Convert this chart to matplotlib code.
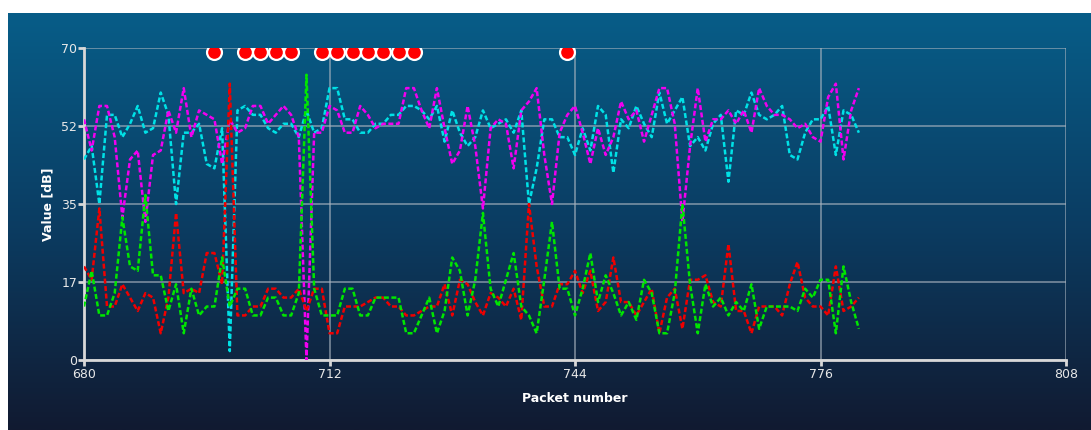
import numpy as np
import matplotlib
matplotlib.use('Agg')
import matplotlib.pyplot as plt
from matplotlib.colors import LinearSegmentedColormap

# Packet numbers and per-channel values [dB]
packets = list(range(680, 782))

cyan_vals = [
    45, 48, 35, 55, 55, 50, 53, 57, 51, 52,
    60, 55, 35, 51, 51, 53, 44, 43, 52, 2,
    56, 57, 55, 55, 52, 51, 53, 53, 50, 56,
    51, 52, 61, 61, 54, 54, 51, 51, 53, 53,
    55, 55, 57, 57, 56, 54, 57, 49, 56, 51,
    48, 50, 56, 52, 53, 54, 51, 56, 35, 43,
    54, 54, 50, 50, 46, 52, 47, 57, 55, 42,
    54, 52, 57, 53, 50, 60, 53, 56, 59, 48,
    50, 47, 53, 55, 40, 56, 55, 60, 55, 54,
    55, 57, 46, 45, 51, 54, 54, 57, 46, 56,
    55, 51]

magenta_vals = [
    54, 47, 57, 57, 50, 32, 45, 47, 31, 46,
    47, 56, 51, 61, 50, 56, 55, 54, 44, 54,
    51, 52, 57, 57, 53, 55, 57, 55, 50, 0,
    51, 51, 57, 56, 51, 51, 57, 55, 52, 53,
    53, 53, 61, 61, 56, 52, 61, 52, 44, 47,
    57, 48, 34, 52, 54, 53, 43, 56, 58, 61,
    46, 35, 51, 55, 57, 51, 44, 52, 46, 50,
    58, 54, 56, 49, 55, 61, 61, 53, 31, 48,
    61, 49, 54, 54, 56, 53, 56, 51, 61, 57,
    55, 55, 54, 52, 53, 50, 49, 59, 62, 45,
    56, 61]

red_vals = [
    21, 18, 34, 12, 12, 17, 14, 11, 15, 14,
    6, 14, 33, 15, 16, 15, 24, 24, 17, 62,
    10, 10, 12, 12, 16, 16, 14, 14, 16, 11,
    16, 16, 6, 6, 12, 12, 12, 13, 14, 14,
    12, 12, 10, 10, 11, 12, 12, 17, 10, 18,
    17, 13, 10, 15, 14, 12, 16, 9, 35, 21,
    12, 12, 17, 17, 20, 15, 20, 11, 13, 23,
    13, 13, 10, 13, 16, 6, 14, 16, 7, 18,
    18, 19, 13, 12, 26, 11, 11, 6, 12, 12,
    12, 10, 17, 22, 14, 12, 12, 10, 21, 11,
    12, 14]

green_vals = [
    12, 20, 10, 10, 15, 32, 21, 20, 37, 19,
    19, 11, 17, 6, 16, 10, 12, 12, 23, 12,
    16, 16, 10, 10, 14, 14, 10, 10, 15, 64,
    16, 10, 10, 10, 16, 16, 10, 10, 14, 14,
    14, 14, 6, 6, 10, 14, 6, 11, 23, 20,
    10, 18, 33, 16, 12, 18, 24, 12, 10, 6,
    18, 31, 16, 16, 10, 16, 24, 13, 19, 15,
    10, 13, 9, 18, 15, 6, 6, 15, 35, 17,
    6, 17, 12, 14, 10, 13, 11, 17, 7, 12,
    12, 12, 12, 11, 16, 14, 18, 18, 6, 21,
    13, 7]

# packets flagged at the top of the chart
flag_packets = [697, 701, 703, 705, 707, 711, 713, 715, 717, 719, 721, 723, 743]
flag_level = 69.2

x_ticks = [680, 712, 744, 776, 808]
y_ticks = [0, 17.5, 35, 52.5, 70]
y_tick_labels = ['0', '17', '35', '52', '70']

fig = plt.figure(figsize=(10.91, 4.30), dpi=100, facecolor='white')

# gradient backdrop
bg = fig.add_axes([8 / 1091, 0, 1 - 8 / 1091, 1 - 13 / 430])
bg_cmap = LinearSegmentedColormap.from_list(
    'bg', ['#075d88', '#0b3d63', '#111a31'])
bg.imshow(np.linspace(0, 1, 256).reshape(-1, 1), aspect='auto', cmap=bg_cmap,
          extent=[0, 1, 0, 1])
bg.set_axis_off()

ax = fig.add_axes([84 / 1091, 70 / 430, 982 / 1091, 312 / 430])
ax.set_facecolor('none')

dash = (2, 1)
series = [(cyan_vals, '#00e1e6'), (magenta_vals, '#f000f0'),
          (red_vals, '#f00000'), (green_vals, '#00e600')]
for vals, col in series:
    ax.plot(packets, vals, color=col, lw=1.8, linestyle=(0, dash), zorder=3)

# flag dots, cut off by the top of the plot area
dots = ax.scatter(flag_packets, [flag_level] * len(flag_packets), s=115,
                  color='#ff0000', edgecolors='white', linewidths=1.6,
                  zorder=5)
dots.set_clip_path(ax.patch)

ax.set_xlim(680, 808)
ax.set_ylim(0, 70)
ax.set_xticks(x_ticks)
ax.set_yticks(y_ticks)
ax.set_yticklabels(y_tick_labels)

ax.grid(True, color='#a9b4bf', alpha=0.75, lw=1.1)
for side in ['top', 'right']:
    ax.spines[side].set_visible(False)
for side in ['left', 'bottom']:
    ax.spines[side].set_color('#d8d8d8')
    ax.spines[side].set_linewidth(2)
ax.tick_params(colors='#d8d8d8', width=2, length=4, labelsize=9,
               labelcolor='#e8e8e8')
ax.tick_params(axis='y', pad=1)
ax.tick_params(axis='x', pad=2)

ax.set_xlabel('Packet number', color='white', fontsize=9, fontweight='bold',
              labelpad=8)
ax.set_ylabel('Value [dB]', color='white', fontsize=9, fontweight='bold',
              labelpad=5)

fig.savefig('out.png', dpi=100, facecolor='white')
